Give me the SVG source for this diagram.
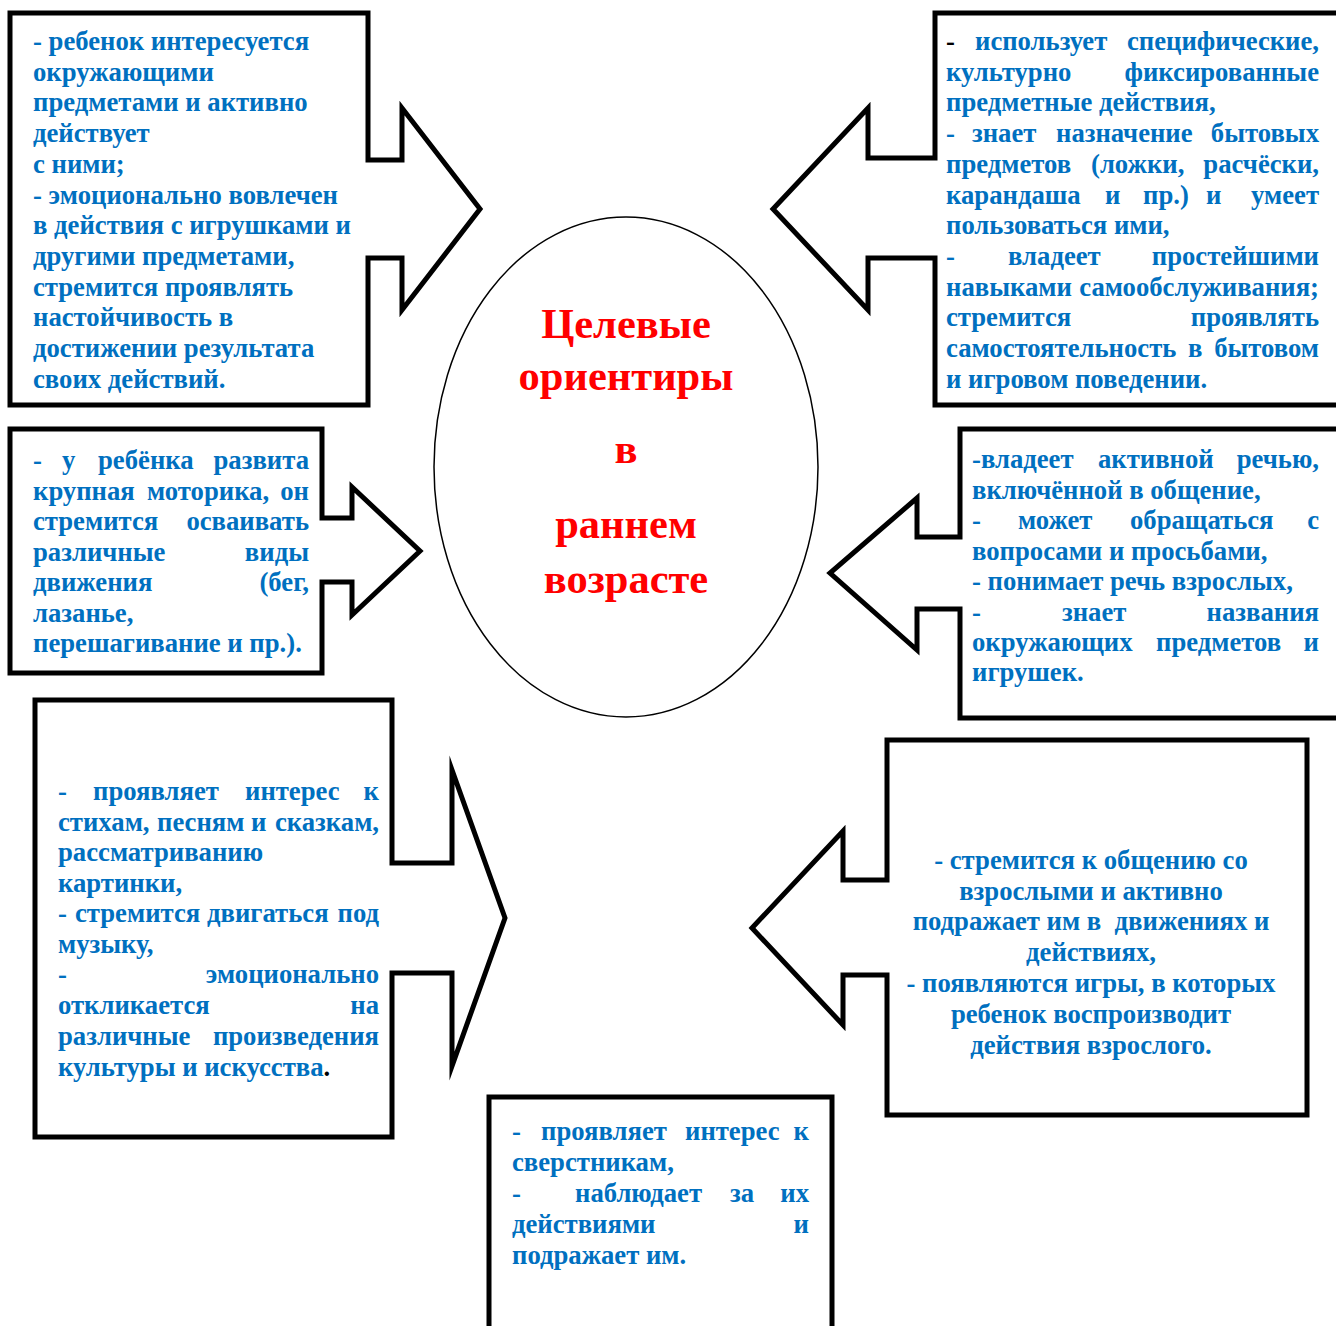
<svg xmlns="http://www.w3.org/2000/svg" width="1336" height="1326" viewBox="0 0 1336 1326">
<style>
.s{fill:#fff;stroke:#000;stroke-width:5;stroke-linejoin:miter;stroke-miterlimit:10}
.t{font-family:"Liberation Serif","Times New Roman",serif;font-weight:bold;font-size:26.7px;fill:#0070C0}
.e{text-anchor:end}
.m{text-anchor:middle}
.k{fill:#000}
.c{font-family:"Liberation Serif","Times New Roman",serif;font-weight:bold;font-size:42.5px;fill:#FF0000;text-anchor:middle}
</style>
<rect width="1336" height="1326" fill="#fff"/>

<g id="node-top-left">
<path class="s" d="M10,13 H368 V160 H402 V108 L480,209 L402,310 V258 H368 V405 H10 Z"/>
<text class="t" x="33" y="50">- ребенок интересуется</text>
<text class="t" x="33" y="81">окружающими</text>
<text class="t" x="33" y="111">предметами и активно</text>
<text class="t" x="33" y="142">действует</text>
<text class="t" x="33" y="173">с ними;</text>
<text class="t" x="33" y="204">- эмоционально вовлечен</text>
<text class="t" x="33" y="234">в действия с игрушками и</text>
<text class="t" x="33" y="265">другими предметами,</text>
<text class="t" x="33" y="296">стремится проявлять</text>
<text class="t" x="33" y="326">настойчивость в</text>
<text class="t" x="33" y="357">достижении результата</text>
<text class="t" x="33" y="388">своих действий.</text>
</g>

<g id="node-top-right">
<path class="s" d="M1341,13 H935 V158 H868 V108 L773,209 L868,310 V258 H935 V405 H1341 Z"/>
<text class="t" y="50"><tspan class="k" x="946">-</tspan><tspan x="975">использует</tspan></text>
<text class="t e" x="1319" y="50">специфические,</text>
<text class="t" x="946" y="81">культурно</text>
<text class="t e" x="1319" y="81">фиксированные</text>
<text class="t" x="946" y="111">предметные действия,</text>
<text class="t" y="142"><tspan x="946">-</tspan><tspan x="972">знает</tspan><tspan x="1056">назначение</tspan></text>
<text class="t e" x="1319" y="142">бытовых</text>
<text class="t" y="173"><tspan x="946">предметов</tspan><tspan x="1091">(ложки,</tspan></text>
<text class="t e" x="1319" y="173">расчёски,</text>
<text class="t" y="204"><tspan x="946">карандаша</tspan><tspan x="1105">и</tspan><tspan x="1143">пр.)</tspan><tspan x="1206">и</tspan></text>
<text class="t e" x="1319" y="204">умеет</text>
<text class="t" x="946" y="234">пользоваться ими,</text>
<text class="t" y="265"><tspan x="946">-</tspan><tspan x="1008">владеет</tspan></text>
<text class="t e" x="1319" y="265">простейшими</text>
<text class="t" x="946" y="296">навыками</text>
<text class="t e" x="1319" y="296">самообслуживания;</text>
<text class="t" x="946" y="326">стремится</text>
<text class="t e" x="1319" y="326">проявлять</text>
<text class="t" y="357"><tspan x="946">самостоятельность</tspan><tspan x="1188">в</tspan></text>
<text class="t e" x="1319" y="357">бытовом</text>
<text class="t" x="946" y="388">и игровом поведении.</text>
</g>

<g id="node-middle-left">
<path class="s" d="M10,429 H322 V518 H352 V487 L420,551 L352,615 V582 H322 V673 H10 Z"/>
<text class="t" y="469"><tspan x="33">-</tspan><tspan x="62">у</tspan><tspan x="98">ребёнка</tspan></text>
<text class="t e" x="309" y="469">развита</text>
<text class="t" y="499.5"><tspan x="33">крупная</tspan><tspan x="147">моторика,</tspan></text>
<text class="t e" x="309" y="499.5">он</text>
<text class="t" x="33" y="530">стремится</text>
<text class="t e" x="309" y="530">осваивать</text>
<text class="t" x="33" y="560.5">различные</text>
<text class="t e" x="309" y="560.5">виды</text>
<text class="t" x="33" y="591">движения</text>
<text class="t e" x="309" y="591">(бег,</text>
<text class="t" x="33" y="621.5">лазанье,</text>
<text class="t" x="33" y="652">перешагивание и пр.).</text>
</g>

<g id="node-middle-right">
<path class="s" d="M1341,429 H960 V537 H917 V498 L830,573 L917,650 V609 H960 V718 H1341 Z"/>
<text class="t" y="468"><tspan x="972">-владеет</tspan><tspan x="1098">активной</tspan></text>
<text class="t e" x="1319" y="468">речью,</text>
<text class="t" x="972" y="498.5">включённой в общение,</text>
<text class="t" y="529"><tspan x="972">-</tspan><tspan x="1018">может</tspan><tspan x="1130">обращаться</tspan></text>
<text class="t e" x="1319" y="529">с</text>
<text class="t" x="972" y="559.5">вопросами и просьбами,</text>
<text class="t" x="972" y="590">- понимает речь взрослых,</text>
<text class="t" y="620.5"><tspan x="972">-</tspan><tspan x="1062">знает</tspan></text>
<text class="t e" x="1319" y="620.5">названия</text>
<text class="t" y="651"><tspan x="972">окружающих</tspan><tspan x="1156">предметов</tspan></text>
<text class="t e" x="1319" y="651">и</text>
<text class="t" x="972" y="681">игрушек.</text>
</g>

<g id="node-bottom-left">
<path class="s" d="M35,700 H392 V863 H452 V770 L505,918 L452,1066 V973 H392 V1137 H35 Z"/>
<text class="t" y="800"><tspan x="58">-</tspan><tspan x="93">проявляет</tspan><tspan x="245">интерес</tspan></text>
<text class="t e" x="379" y="800">к</text>
<text class="t" y="831"><tspan x="58">стихам,</tspan><tspan x="157">песням</tspan><tspan x="251">и</tspan></text>
<text class="t e" x="379" y="831">сказкам,</text>
<text class="t" x="58" y="861">рассматриванию</text>
<text class="t" x="58" y="892">картинки,</text>
<text class="t" y="922"><tspan x="58">-</tspan><tspan x="75">стремится</tspan><tspan x="207">двигаться</tspan></text>
<text class="t e" x="379" y="922">под</text>
<text class="t" x="58" y="953">музыку,</text>
<text class="t" x="58" y="983">-</text>
<text class="t e" x="379" y="983">эмоционально</text>
<text class="t" x="58" y="1014">откликается</text>
<text class="t e" x="379" y="1014">на</text>
<text class="t" x="58" y="1045">различные</text>
<text class="t e" x="379" y="1045">произведения</text>
<text class="t" x="58" y="1076">культуры и искусства<tspan class="k">.</tspan></text>
</g>

<g id="node-bottom-right">
<path class="s" d="M1307,740 H887 V880 H843 V831 L752,928 L843,1025 V975 H887 V1115 H1307 Z"/>
<text class="t m" x="1091" y="869">- стремится к общению со</text>
<text class="t m" x="1091" y="900">взрослыми и активно</text>
<text class="t m" x="1091" y="930" xml:space="preserve">подражает им в  движениях и</text>
<text class="t m" x="1091" y="961">действиях,</text>
<text class="t m" x="1091" y="992">- появляются игры, в которых</text>
<text class="t m" x="1091" y="1023">ребенок воспроизводит</text>
<text class="t m" x="1091" y="1054">действия взрослого.</text>
</g>

<g id="node-bottom-center">
<path class="s" d="M489,1331 V1097 H832 V1331"/>
<text class="t" y="1140"><tspan x="512">-</tspan><tspan x="541">проявляет</tspan><tspan x="685">интерес</tspan></text>
<text class="t e" x="809" y="1140">к</text>
<text class="t" x="512" y="1171">сверстникам,</text>
<text class="t" y="1202"><tspan x="512">-</tspan><tspan x="575">наблюдает</tspan><tspan x="730">за</tspan></text>
<text class="t e" x="809" y="1202">их</text>
<text class="t" x="512" y="1233">действиями</text>
<text class="t e" x="809" y="1233">и</text>
<text class="t" x="512" y="1264">подражает им.</text>
</g>

<g id="node-center">
<ellipse cx="626" cy="467" rx="192" ry="250" fill="#fff" stroke="#000" stroke-width="1.5"/>
<text class="c" x="626" y="338">Целевые</text>
<text class="c" x="626" y="390">ориентиры</text>
<text class="c" x="626" y="463">в</text>
<text class="c" x="626" y="538">раннем</text>
<text class="c" x="626" y="593">возрасте</text>
</g>

<g id="connectors"></g>
</svg>
